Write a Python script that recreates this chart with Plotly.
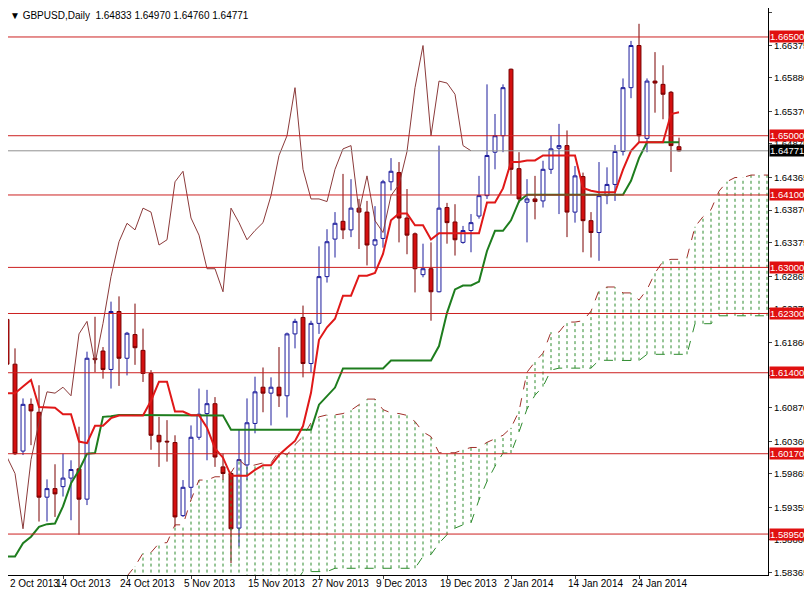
import pandas as pd
import plotly.graph_objects as go

# GBPUSD daily, 2 Oct 2013 .. 31 Jan 2014 (bar index 0..85)
opens = [1.6195, 1.6221, 1.6153, 1.6021, 1.6092, 1.6080, 1.5951, 1.5964, 1.5967, 1.5980,
         1.5994, 1.5948, 1.6162, 1.6173, 1.6145, 1.6233, 1.6162, 1.6198, 1.6174, 1.6139,
         1.6045, 1.6036, 1.6034, 1.5923, 1.5966, 1.6042, 1.6078, 1.6093, 1.5997, 1.5987,
         1.5904, 1.6000, 1.6063, 1.6118, 1.6109, 1.6118, 1.6105, 1.6199, 1.6224, 1.6154,
         1.6215, 1.6286, 1.6343, 1.6370, 1.6357, 1.6390, 1.6384, 1.6334, 1.6344, 1.6430,
         1.6444, 1.6375, 1.6351, 1.6289, 1.6298, 1.6263, 1.6391, 1.6369, 1.6338, 1.6356,
         1.6378, 1.6409, 1.6475, 1.6500, 1.6601, 1.6450, 1.6399, 1.6404, 1.6401, 1.6449,
         1.6481, 1.6485, 1.6384, 1.6438, 1.6371, 1.6353, 1.6409, 1.6426, 1.6476, 1.6573,
         1.6637, 1.6496, 1.6583, 1.6578, 1.6566, 1.64833]
highs = [1.6240, 1.6240, 1.6177, 1.6101, 1.6101, 1.6121, 1.5978, 1.6001, 1.6017, 1.6007,
         1.6058, 1.6172, 1.6225, 1.6179, 1.6248, 1.6256, 1.6202, 1.6245, 1.6207, 1.6144,
         1.6073, 1.6068, 1.6045, 1.5977, 1.6060, 1.6116, 1.6114, 1.6103, 1.6017, 1.5990,
         1.6053, 1.6101, 1.6134, 1.6148, 1.6133, 1.6179, 1.6201, 1.6222, 1.6242, 1.6219,
         1.6332, 1.6358, 1.6384, 1.6442, 1.6434, 1.6404, 1.6401, 1.6393, 1.6433, 1.6466,
         1.6460, 1.6419, 1.6353, 1.6336, 1.6338, 1.6485, 1.6398, 1.6396, 1.6363, 1.6381,
         1.6439, 1.6578, 1.6533, 1.6578, 1.6602, 1.6475, 1.6434, 1.6439, 1.6462, 1.6500,
         1.6518, 1.6508, 1.6454, 1.6444, 1.6384, 1.6460, 1.6452, 1.6486, 1.6587, 1.6644,
         1.6670, 1.6587, 1.6627, 1.6607, 1.6568, 1.64970]
lows = [1.6185, 1.6149, 1.6015, 1.6015, 1.6030, 1.5914, 1.5914, 1.5921, 1.5952, 1.5916,
        1.5894, 1.5939, 1.6141, 1.6131, 1.6116, 1.6120, 1.6136, 1.6152, 1.6126, 1.6023,
        1.5997, 1.6005, 1.5906, 1.5921, 1.5949, 1.6038, 1.6007, 1.5997, 1.5977, 1.5851,
        1.5876, 1.5977, 1.6048, 1.6080, 1.6060, 1.6088, 1.6072, 1.6177, 1.6133, 1.6141,
        1.6199, 1.6277, 1.6315, 1.6343, 1.6346, 1.6328, 1.6303, 1.6298, 1.6330, 1.6417,
        1.6338, 1.6320, 1.6262, 1.6285, 1.6219, 1.6262, 1.6336, 1.6318, 1.6336, 1.6323,
        1.6374, 1.6404, 1.6449, 1.6475, 1.6411, 1.6398, 1.6338, 1.6373, 1.6391, 1.6442,
        1.6381, 1.6346, 1.6368, 1.6323, 1.6315, 1.6310, 1.6396, 1.6401, 1.6470, 1.6557,
        1.6490, 1.6475, 1.6535, 1.6525, 1.6445, 1.64760]
closes = [1.6222, 1.6153, 1.6017, 1.6092, 1.6082, 1.5951, 1.5964, 1.5956, 1.5980, 1.5993,
          1.5948, 1.6162, 1.6160, 1.6145, 1.6233, 1.6162, 1.6200, 1.6178, 1.6139, 1.6045,
          1.6035, 1.6035, 1.5921, 1.5966, 1.6042, 1.6077, 1.6093, 1.6012, 1.5987, 1.5903,
          1.6008, 1.6064, 1.6111, 1.6109, 1.6118, 1.6105, 1.6199, 1.6218, 1.6154, 1.6215,
          1.6286, 1.6339, 1.6367, 1.6357, 1.6390, 1.6384, 1.6334, 1.6342, 1.6430, 1.6446,
          1.6375, 1.6349, 1.6298, 1.6298, 1.6263, 1.6390, 1.6368, 1.6342, 1.6356, 1.6368,
          1.6409, 1.6470, 1.6500, 1.6573, 1.6449, 1.6404, 1.6404, 1.6400, 1.6449, 1.6480,
          1.6485, 1.6384, 1.6439, 1.6371, 1.6353, 1.6409, 1.6426, 1.6476, 1.6573, 1.6637,
          1.6500, 1.6583, 1.6580, 1.6563, 1.6485, 1.64771]

tenkan_early = [1.6109, 1.6109, 1.6109, 1.6119, 1.6129, 1.6088, 1.6087, 1.6087]  # bars 0-7
kijun_early = [1.5843, 1.5861, 1.5861, 1.5881, 1.5891, 1.5906, 1.5910, 1.5911, 1.5937, 1.5972,
               1.5992, 1.6017, 1.6018, 1.6073, 1.6074, 1.6076, 1.6076, 1.6076, 1.6076, 1.6076,
               1.6076, 1.6076, 1.6076, 1.6076, 1.6076]  # bars 0-24
span_a_early = [1.5831, 1.5846, 1.5866, 1.5867, 1.5881, 1.5882, 1.5909, 1.5909, 1.5947, 1.5977,
                1.5977, 1.5982, 1.5982, 1.5988, 1.6008, 1.5997, 1.6000, 1.6003, 1.6003, 1.6021,
                1.6015, 1.6031, 1.6043, 1.6064, 1.6073, 1.6076, 1.6076, 1.6078, 1.6083, 1.6091,
                1.6100, 1.6100, 1.6084, 1.6079, 1.6078]  # bars 16-50
span_b_early = [1.5800, 1.5800, 1.5800, 1.5800, 1.5800, 1.5800, 1.5800, 1.5800, 1.5800, 1.5800,
                1.5800, 1.5800, 1.5800, 1.5800, 1.5800, 1.5820, 1.5820, 1.5820, 1.5820, 1.5820,
                1.5820, 1.5820, 1.5838, 1.5838, 1.5838, 1.5838, 1.5843, 1.5843, 1.5843, 1.5843,
                1.5843, 1.5843, 1.5843, 1.5843, 1.5843, 1.5843, 1.5843, 1.5861, 1.5864, 1.5881,
                1.5894, 1.5904, 1.5909, 1.5912, 1.5947, 1.5975, 1.5998, 1.6018, 1.6018, 1.6050,
                1.6085, 1.6106, 1.6119, 1.6144, 1.6147, 1.6147, 1.6147, 1.6147, 1.6147, 1.6159,
                1.6159]  # bars 16-76

levels = [1.6650, 1.6500, 1.6410, 1.6300, 1.6230, 1.6140, 1.6017, 1.5895]
price_ticks = [1.66870, 1.66375, 1.65880, 1.65370, 1.64875, 1.64365, 1.63870, 1.63375, 1.62865,
               1.62370, 1.61860, 1.61365, 1.60870, 1.60360, 1.59865, 1.59355, 1.58860, 1.58365]
date_labels = ["2 Oct 2013", "14 Oct 2013", "24 Oct 2013", "5 Nov 2013", "15 Nov 2013",
               "27 Nov 2013", "9 Dec 2013", "19 Dec 2013", "2 Jan 2014", "14 Jan 2014", "24 Jan 2014"]
date_bars = [0, 8, 16, 24, 32, 40, 48, 56, 64, 72, 80]
last_price = 1.64771

FONT = "Liberation Sans"

df = pd.DataFrame({"o": opens, "h": highs, "l": lows, "c": closes})
n = len(df)
x = list(range(n))

tenkan = (df.h.rolling(9).max() + df.l.rolling(9).min()) / 2
tenkan.iloc[:8] = tenkan_early
kijun = (df.h.rolling(26).max() + df.l.rolling(26).min()) / 2
kijun.iloc[:25] = kijun_early
b52 = (df.h.rolling(52).max() + df.l.rolling(52).min()) / 2

span_a = [None] * (n + 26)
span_b = [None] * (n + 26)
for k, v in enumerate(span_a_early):
    span_a[16 + k] = v
for k, v in enumerate(span_b_early):
    span_b[16 + k] = v
for j in range(25, n):
    span_a[j + 26] = (tenkan[j] + kijun[j]) / 2
for j in range(51, n):
    span_b[j + 26] = b52[j]
chikou = closes[26:]

fig = go.Figure()

# cloud hatch
hx, hy = [], []
for j in range(n + 26):
    if span_a[j] is not None and span_b[j] is not None:
        hx += [j, j, None]
        hy += [span_b[j], span_a[j], None]
fig.add_trace(go.Scatter(x=hx, y=hy, mode="lines", line=dict(color="#2e8b2e", width=1, dash="dot"),
                         hoverinfo="skip"))
xs = list(range(n + 26))
fig.add_trace(go.Scatter(x=xs, y=span_a, mode="lines", line=dict(color="#a0302a", width=1, dash="dash")))
fig.add_trace(go.Scatter(x=xs, y=span_b, mode="lines", line=dict(color="#2e8b2e", width=1, dash="dash")))

for lv in levels:
    fig.add_hline(y=lv, line=dict(color="#cc2020", width=1))
fig.add_hline(y=last_price, line=dict(color="#909090", width=1))

fig.add_trace(go.Scatter(x=x[:len(chikou)], y=chikou, mode="lines", line=dict(color="#8b3a3a", width=1)))

fig.add_trace(go.Candlestick(
    x=x, open=opens, high=highs, low=lows, close=closes,
    increasing=dict(line=dict(color="#1c1c9c", width=1), fillcolor="white"),
    decreasing=dict(line=dict(color="#7a0000", width=1), fillcolor="#d41010"),
    whiskerwidth=0))

fig.add_trace(go.Scatter(x=x, y=kijun, mode="lines", line=dict(color="#1e7d1e", width=2)))
fig.add_trace(go.Scatter(x=x, y=tenkan, mode="lines", line=dict(color="#e01818", width=2)))

ann = []
for lv in levels:
    ann.append(dict(x=1.0, xref="paper", y=lv, yref="y", xanchor="left", yanchor="middle",
                    text=f"{lv:.5f}", showarrow=False, bgcolor="#e01010",
                    font=dict(color="white", size=9.5, family=FONT), borderpad=0, xshift=1))
ann.append(dict(x=1.0, xref="paper", y=last_price, yref="y", xanchor="left", yanchor="middle",
                text=f"{last_price:.5f}", showarrow=False, bgcolor="black",
                font=dict(color="white", size=9.5, family=FONT), borderpad=0, xshift=1))
for b, t in zip(date_bars, date_labels):
    ann.append(dict(x=max(b - 1.1, 1.13), xref="x", y=0, yref="paper", xanchor="left", yanchor="top",
                    text=t, showarrow=False, yshift=-1,
                    font=dict(color="black", size=10, family=FONT)))
ann.append(dict(x=0.0, xref="paper", y=1.0, yref="paper", xanchor="left", yanchor="top",
                text="▼ GBPUSD,Daily  1.64833 1.64970 1.64760 1.64771", showarrow=False,
                font=dict(color="black", size=10, family=FONT)))

fig.update_layout(
    width=804, height=583, showlegend=False,
    margin=dict(l=0, r=44, t=0, b=16),
    plot_bgcolor="white", paper_bgcolor="white",
    annotations=ann,
    xaxis=dict(range=[1.125, 96.125], showgrid=False, zeroline=False, rangeslider=dict(visible=False),
               tickvals=date_bars, ticktext=[""] * len(date_bars), ticks="outside", ticklen=3,
               showline=True, linecolor="black"),
    yaxis=dict(range=[1.58328, 1.66940], side="right", showgrid=False, zeroline=False,
               tickvals=price_ticks, ticktext=[f"{v:.5f}" for v in price_ticks],
               ticks="outside", ticklen=3, showline=True, linecolor="black",
               tickfont=dict(size=9.5, family=FONT, color="black")),
)

fig.write_html("out.html")
